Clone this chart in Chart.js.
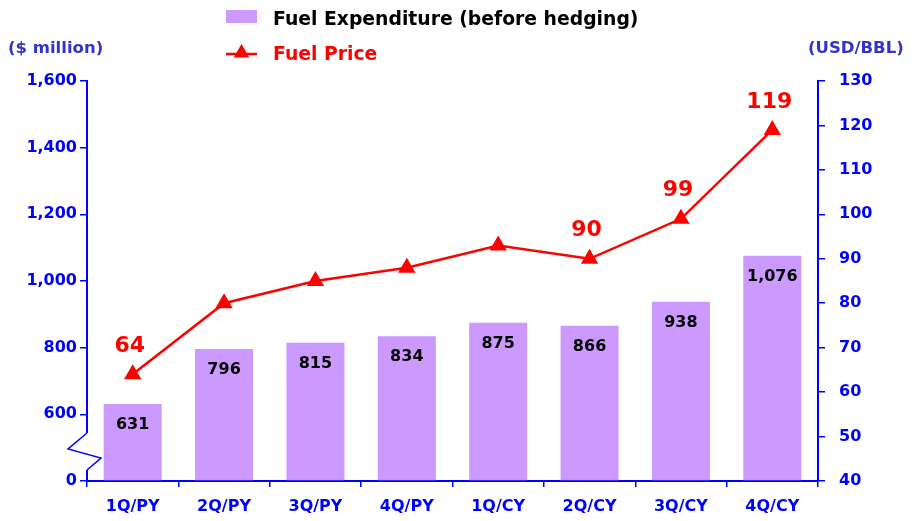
<!DOCTYPE html>
<html><head><meta charset="utf-8">
<script src="https://cdn.jsdelivr.net/npm/chart.js@4/dist/chart.umd.min.js"></script>
<style>html,body{margin:0;padding:0;background:#fff}#wrap{width:913px;height:521px}</style>
</head><body><div id="wrap"><canvas id="c" width="913" height="521"></canvas></div>
<script>
const categories = ['1Q/PY','2Q/PY','3Q/PY','4Q/PY','1Q/CY','2Q/CY','3Q/CY','4Q/CY'];
const fuelExpenditure = [631,796,815,834,875,866,938,1076];
const fuelPrice = [64,80,85,88,93,90,99,119];
const priceLabels = ['64','','','','','90','99','119'];
const seriesNames = ['Fuel Expenditure (before hedging)','Fuel Price'];
const axisTitles = ['($ million)','(USD/BBL)'];
const leftMin = 400, leftMax = 1600, leftStep = 200;   // bottom of broken axis is labelled "0"
const rightMin = 40, rightMax = 130, rightStep = 10;

const FONT = "'DejaVu Sans', sans-serif";
const BLUE = '#0000FF', RED = '#FF0000', PURPLE = '#CC99FF', TITLE = '#3333CC';
Chart.defaults.font.family = FONT;

function tri(ctx, x, y, r){
  ctx.beginPath();
  ctx.moveTo(x, y - r);
  ctx.lineTo(x + r*Math.sqrt(3)/2, y + r/2);
  ctx.lineTo(x - r*Math.sqrt(3)/2, y + r/2);
  ctx.closePath(); ctx.fill();
}

const annot = {
  id:'annot',
  afterDatasetsDraw(chart){
    const ctx = chart.ctx;
    ctx.save();
    ctx.textAlign='center'; ctx.textBaseline='middle';
    const bars = chart.getDatasetMeta(1).data;
    ctx.fillStyle='#000'; ctx.font = "bold 16px " + FONT;
    bars.forEach((el,i)=>{ ctx.fillText(fuelExpenditure[i].toLocaleString('en-US'), el.x, el.y + 21); });
    const pts = chart.getDatasetMeta(0).data;
    ctx.fillStyle=RED; ctx.font = "bold 22px " + FONT;
    pts.forEach((el,i)=>{ if(priceLabels[i]) ctx.fillText(priceLabels[i], el.x - 3, el.y - 28); });
    ctx.restore();
  },
  afterDraw(chart){
    const ctx = chart.ctx, a = chart.chartArea;
    ctx.save();
    // axis break
    const L = a.left, B = a.bottom;
    ctx.fillStyle='#fff'; ctx.fillRect(L-2, B-48, 4, 37);
    ctx.strokeStyle=BLUE; ctx.lineWidth=1.5;
    ctx.beginPath(); ctx.moveTo(L,B-48); ctx.lineTo(L-19,B-32); ctx.lineTo(L+14,B-23); ctx.lineTo(L,B-11); ctx.stroke();
    // axis titles
    ctx.font = "bold 16.5px " + FONT; ctx.fillStyle=TITLE; ctx.textBaseline='middle'; ctx.textAlign='left';
    ctx.fillText(axisTitles[0], 8, 49);
    ctx.fillText(axisTitles[1], 808, 49);
    // legend
    ctx.fillStyle=PURPLE; ctx.fillRect(226,10,31,13);
    ctx.font = "bold 18.8px " + FONT;
    ctx.fillStyle='#000'; ctx.fillText(seriesNames[0], 273, 20);
    ctx.strokeStyle=RED; ctx.lineWidth=2.5;
    ctx.beginPath(); ctx.moveTo(226,54); ctx.lineTo(257,54); ctx.stroke();
    ctx.fillStyle=RED; tri(ctx, 241.5, 53, 9);
    ctx.fillText(seriesNames[1], 273, 55);
    ctx.restore();
  }
};

const tickFont = {size:16, weight:'bold', family:FONT};
new Chart(document.getElementById('c'), {
  data:{
    labels: categories,
    datasets:[
      {type:'line', label:seriesNames[1], data:fuelPrice, yAxisID:'y1', borderColor:RED, backgroundColor:RED,
       borderWidth:2.5, pointStyle:'triangle', pointRadius:10, pointHoverRadius:10, pointBorderWidth:0, tension:0, order:0, clip:false},
      {type:'bar', label:seriesNames[0], data:fuelExpenditure, yAxisID:'y', backgroundColor:PURPLE,
       barPercentage:0.635, categoryPercentage:1, base:leftMin, order:1}
    ]
  },
  options:{
    responsive:false, animation:false, devicePixelRatio:1,
    layout:{padding:{top:81,left:0,right:0,bottom:0}},
    plugins:{legend:{display:false}, tooltip:{enabled:false}},
    scales:{
      x:{offset:true,
         grid:{display:true, drawOnChartArea:false, tickLength:6, color:BLUE, lineWidth:1.5, offset:true},
         border:{color:BLUE, width:2},
         ticks:{color:BLUE, font:tickFont, padding:10, maxRotation:0},
         afterFit(s){ s.height = 40; }},
      y:{position:'left', min:leftMin, max:leftMax,
         grid:{drawOnChartArea:false, tickLength:7, color:BLUE, lineWidth:1.5},
         border:{color:BLUE, width:2},
         ticks:{stepSize:leftStep, color:BLUE, font:tickFont, padding:3,
                callback:v => v===leftMin ? '0' : v.toLocaleString('en-US')},
         afterFit(s){ s.width = 87; }},
      y1:{position:'right', min:rightMin, max:rightMax,
         grid:{drawOnChartArea:false, tickLength:7, color:BLUE, lineWidth:1.5},
         border:{color:BLUE, width:2},
         ticks:{stepSize:rightStep, color:BLUE, font:tickFont, padding:14},
         afterFit(s){ s.width = 95; }}
    }
  },
  plugins:[annot]
});
</script></body></html>
